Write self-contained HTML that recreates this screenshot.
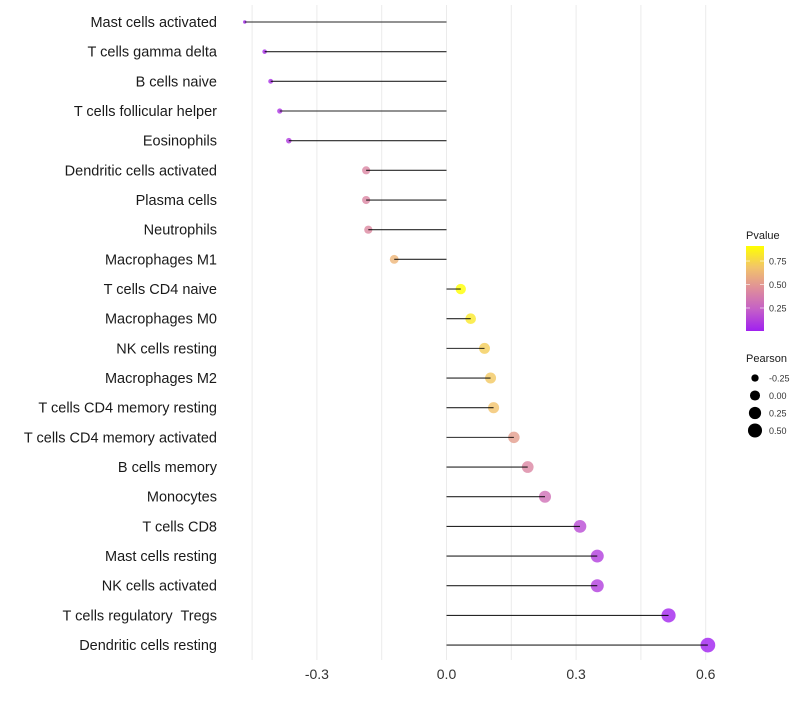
<!DOCTYPE html>
<html><head><meta charset="utf-8"><style>
body{margin:0;background:#fff;font-family:"Liberation Sans",sans-serif}
</style></head><body>
<svg id="chart" width="800" height="700" xmlns="http://www.w3.org/2000/svg"></svg>
<script>
const categories=["Mast cells activated","T cells gamma delta","B cells naive","T cells follicular helper","Eosinophils","Dendritic cells activated","Plasma cells","Neutrophils","Macrophages M1","T cells CD4 naive","Macrophages M0","NK cells resting","Macrophages M2","T cells CD4 memory resting","T cells CD4 memory activated","B cells memory","Monocytes","T cells CD8","Mast cells resting","NK cells activated","T cells regulatory  Tregs","Dendritic cells resting"];
const pearson=[-0.467,-0.421,-0.407,-0.386,-0.365,-0.186,-0.186,-0.181,-0.121,0.033,0.056,0.088,0.102,0.109,0.156,0.188,0.228,0.309,0.349,0.349,0.514,0.605];
const pvalues=[0.03,0.05,0.06,0.08,0.1,0.42,0.42,0.43,0.62,0.91,0.82,0.72,0.7,0.68,0.52,0.42,0.32,0.16,0.11,0.11,0.02,0.005];
const xTicks=[-0.3,0,0.3,0.6];
const xTickLabels=["-0.3","0.0","0.3","0.6"];
const gridVals=[-0.45,-0.3,-0.15,0,0.15,0.3,0.45,0.6];
const pTicks=[0.25,0.5,0.75];
const sizeLegend=[-0.25,0,0.25,0.5];

const NS="http://www.w3.org/2000/svg";
const svg=document.getElementById('chart');
function mk(t,a,p){const e=document.createElementNS(NS,t);for(const k in a)e.setAttribute(k,a[k]);(p||svg).appendChild(e);return e;}
const x=v=>446.5+v*432;
const y=i=>22+i*29.67;
const pMin=0.005,pMax=0.91;
const stops=[[0,[160,32,240]],[0.25,[196,95,200]],[0.5,[223,142,154]],[0.75,[242,196,106]],[1,[255,255,0]]];
function col(p){let t=(p-pMin)/(pMax-pMin);t=Math.max(0,Math.min(1,t));
 for(let i=1;i<stops.length;i++){if(t<=stops[i][0]){const a=stops[i-1],b=stops[i];const f=(t-a[0])/(b[0]-a[0]);
 return 'rgb('+a[1].map((c,j)=>Math.round(c+(b[1][j]-c)*f)).join(',')+')';}}return 'rgb(255,255,0)';}
const rad=v=>Math.sqrt(Math.max(1,3+48*(v+0.467)));

gridVals.forEach(g=>{const l=mk('line',{x1:x(g),x2:x(g),y1:5,y2:660,stroke:'#ebebeb','stroke-width':1});

});
xTicks.forEach((t,i)=>{const tx=mk('text',{x:x(t),y:679,'text-anchor':'middle','font-size':14,fill:'#333'});tx.textContent=xTickLabels[i];

});
categories.forEach((c,i)=>{
 const tx=mk('text',{x:217,y:y(i)+5,'text-anchor':'end','font-size':14.5,fill:'#1a1a1a','xml:space':'preserve'});tx.textContent=c;
 tx.style.whiteSpace='pre';
 
 
 const ci=mk('circle',{cx:x(pearson[i]),cy:y(i),r:rad(pearson[i]),fill:col(pvalues[i]),'fill-opacity':0.8});
 
 
 const ln=mk('line',{x1:x(0),x2:x(pearson[i]),y1:y(i),y2:y(i),stroke:'#000','stroke-width':1.1,'stroke-opacity':0.85});
 
 
});
const lg=mk('g',{});


const defs=mk('defs',{});
const gr=mk('linearGradient',{id:'pg',x1:0,y1:1,x2:0,y2:0},defs);
stops.forEach(s=>mk('stop',{offset:s[0],'stop-color':'rgb('+s[1].join(',')+')'},gr));
const lt=mk('text',{x:746,y:239,'font-size':11,fill:'#1a1a1a'},lg);lt.textContent='Pvalue';
mk('rect',{x:746,y:246,width:18,height:85,fill:'url(#pg)'},lg);
const py=p=>331-(p-pMin)/(pMax-pMin)*85;
pTicks.forEach(p=>{mk('line',{x1:746,x2:750,y1:py(p),y2:py(p),stroke:'#fff','stroke-opacity':0.6},lg);mk('line',{x1:760,x2:764,y1:py(p),y2:py(p),stroke:'#fff','stroke-opacity':0.6},lg);
 const t=mk('text',{x:769,y:py(p)+3.5,'font-size':9,fill:'#333'},lg);t.textContent=p.toFixed(2);});
const sg=mk('g',{});


const st=mk('text',{x:746,y:362,'font-size':11,fill:'#1a1a1a'},sg);st.textContent='Pearson';
sizeLegend.forEach((v,i)=>{const yy=378+i*17.5;mk('circle',{cx:755,cy:yy,r:rad(v),fill:'#000'},sg);
 const t=mk('text',{x:769,y:yy+3.5,'font-size':9,fill:'#333'},sg);t.textContent=v.toFixed(2);});
</script>
</body></html>
